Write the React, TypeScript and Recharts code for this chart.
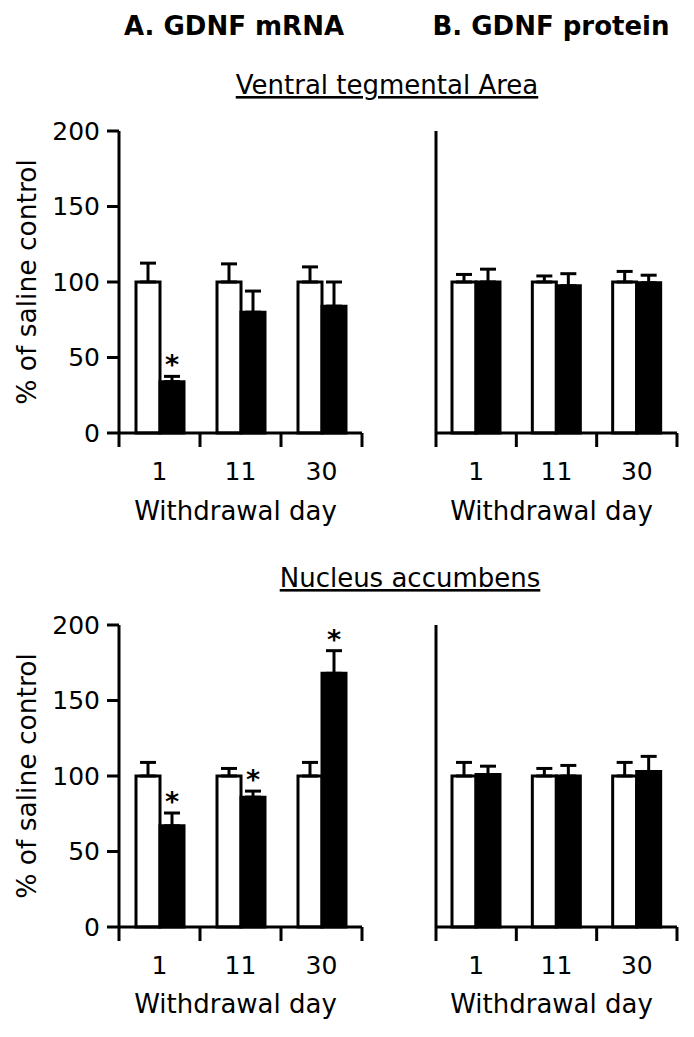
import React from 'react'
import { BarChart, Bar, XAxis, YAxis, ErrorBar, LabelList } from 'recharts'

const days = ['1', '11', '30']
const yTicks = [0, 50, 100, 150, 200]

// A. GDNF mRNA, ventral tegmental area
const vtaMrnaSaline = [100, 100, 100]
const vtaMrnaSalineErr = [12.5, 12, 10]
const vtaMrnaCocaine = [34, 80, 84]
const vtaMrnaCocaineErr = [3.5, 14, 16]
const vtaMrnaSig = [true, false, false]

// B. GDNF protein, ventral tegmental area
const vtaProtSaline = [100, 100, 100]
const vtaProtSalineErr = [5, 4, 7]
const vtaProtCocaine = [100, 97.5, 99.5]
const vtaProtCocaineErr = [8.5, 8, 5]

// A. GDNF mRNA, nucleus accumbens
const nacMrnaSaline = [100, 100, 100]
const nacMrnaSalineErr = [9, 5, 9]
const nacMrnaCocaine = [67, 86, 168]
const nacMrnaCocaineErr = [8.5, 4, 15]
const nacMrnaSig = [true, true, true]

// B. GDNF protein, nucleus accumbens
const nacProtSaline = [100, 100, 100]
const nacProtSalineErr = [9, 5, 9]
const nacProtCocaine = [101, 100, 103]
const nacProtCocaineErr = [5.5, 7, 10]

const noSig = [false, false, false]

const FONT = '"DejaVu Sans", sans-serif'

function buildRows(sal: number[], salErr: number[], coc: number[], cocErr: number[], sig: boolean[]) {
  return days.map((day, i) => ({
    day,
    saline: sal[i],
    salineErr: [0, salErr[i]],
    cocaine: coc[i],
    cocaineErr: [0, cocErr[i]],
    pad: sig[i] ? cocErr[i] : 0,
    star: sig[i] ? '*' : '',
  }))
}

function DayTick(props: any) {
  const { x, y, payload, index, visibleTicksCount } = props
  const half = payload && payload.offset != null ? payload.offset : 40
  const axisY = y - 29
  return (
    <g>
      <line x1={x - half} x2={x - half} y1={axisY} y2={axisY + 14} stroke="#000" strokeWidth={3} />
      {index === visibleTicksCount - 1 && (
        <line x1={x + half} x2={x + half} y1={axisY} y2={axisY + 14} stroke="#000" strokeWidth={3} />
      )}
      <text x={x} y={y} dy="0.71em" textAnchor="middle" fontSize={25} fill="#000">
        {payload.value}
      </text>
    </g>
  )
}

interface PanelProps {
  left: number
  top: number
  width: number
  yWidth: number
  showY: boolean
  labelOffset: number
  rows: any[]
}

function Panel({ left, top, width, yWidth, showY, labelOffset, rows }: PanelProps) {
  const axisStroke = { stroke: '#000', strokeWidth: 3 }
  return (
    <div style={{ position: 'absolute', left, top }}>
      <BarChart
        width={width}
        height={440}
        data={rows}
        margin={{ top: 31, right: 8, left: 0, bottom: 12 }}
        barGap={0}
        barSize={24}
      >
        <XAxis
          dataKey="day"
          height={95}
          interval={0}
          axisLine={axisStroke}
          tickLine={false}
          tickSize={14}
          tickMargin={15}
          tick={(p: any) => <DayTick {...p} />}
          label={{ value: 'Withdrawal day', position: 'insideBottom', offset: labelOffset, fill: '#000', fontSize: 26, dx: -5 }}
        />
        <YAxis
          domain={[0, 200]}
          ticks={yTicks}
          width={yWidth}
          axisLine={axisStroke}
          tickLine={axisStroke}
          tickSize={12}
          tickMargin={7}
          tick={showY ? { fill: '#000', fontSize: 25 } : false}
          label={
            showY
              ? { value: '% of saline control', angle: -90, position: 'insideLeft', offset: 27, fill: '#000', fontSize: 26.5, style: { textAnchor: 'middle' } }
              : undefined
          }
        />
        <Bar dataKey="saline" stackId="a" fill="#fff" stroke="#000" strokeWidth={3} isAnimationActive={false}>
          <ErrorBar dataKey="salineErr" direction="y" width={8} stroke="#000" strokeWidth={3} />
        </Bar>
        <Bar dataKey="cocaine" stackId="b" fill="#000" stroke="#000" strokeWidth={3} isAnimationActive={false}>
          <ErrorBar dataKey="cocaineErr" direction="y" width={8} stroke="#000" strokeWidth={3} />
        </Bar>
        <Bar dataKey="pad" stackId="b" fill="none" stroke="none" isAnimationActive={false}>
          <LabelList
            dataKey="star"
            position="top"
            offset={2}
            fill="#000"
            fontSize={27}
            fontWeight="bold"
            style={{ fill: '#000' }}
          />
        </Bar>
      </BarChart>
    </div>
  )
}

export default function App() {
  const vtaMrna = buildRows(vtaMrnaSaline, vtaMrnaSalineErr, vtaMrnaCocaine, vtaMrnaCocaineErr, vtaMrnaSig)
  const vtaProt = buildRows(vtaProtSaline, vtaProtSalineErr, vtaProtCocaine, vtaProtCocaineErr, noSig)
  const nacMrna = buildRows(nacMrnaSaline, nacMrnaSalineErr, nacMrnaCocaine, nacMrnaCocaineErr, nacMrnaSig)
  const nacProt = buildRows(nacProtSaline, nacProtSalineErr, nacProtCocaine, nacProtCocaineErr, noSig)

  return (
    <div style={{ position: 'absolute', left: 0, top: 0, width: 694, height: 1037, background: '#fff', fontFamily: FONT }}>
      <svg width={694} height={1037} style={{ position: 'absolute', left: 0, top: 0 }}>
        <text x={234} y={35} textAnchor="middle" fontSize={26} fontWeight="bold" fill="#000">A. GDNF mRNA</text>
        <text x={551} y={35} textAnchor="middle" fontSize={26} fontWeight="bold" fill="#000">B. GDNF protein</text>
        <text x={387} y={94} textAnchor="middle" fontSize={26} fill="#000" style={{ textDecoration: 'underline' }}>
          Ventral tegmental Area
        </text>
        <text x={410} y={587} textAnchor="middle" fontSize={26} fill="#000" style={{ textDecoration: 'underline' }}>
          Nucleus accumbens
        </text>
      </svg>
      <Panel left={0} top={100} width={370} yWidth={119} showY labelOffset={8} rows={vtaMrna} />
      <Panel left={370} top={100} width={315} yWidth={66} showY={false} labelOffset={8} rows={vtaProt} />
      <Panel left={0} top={594} width={370} yWidth={119} showY labelOffset={9} rows={nacMrna} />
      <Panel left={370} top={594} width={315} yWidth={66} showY={false} labelOffset={9} rows={nacProt} />
    </div>
  )
}
